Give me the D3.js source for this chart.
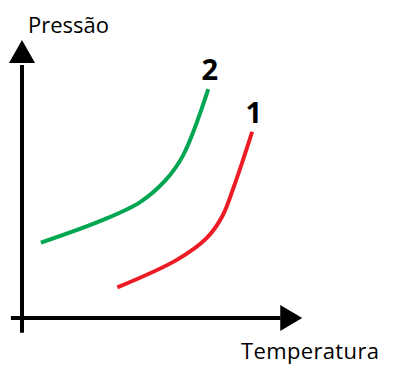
<!DOCTYPE html>
<html><head><meta charset="utf-8">
<script src="https://cdn.jsdelivr.net/npm/d3@7"></script>
<style>body{margin:0;background:#fff}svg{display:block}</style>
</head><body>
<svg id="c" width="401" height="374"></svg>
<script>
const seriesNames = ["1", "2"];
const curve2T = [6.8, 28.7, 42.5, 51.4, 58.0, 67.0];
const curve2P = [27.1, 35.1, 41.7, 49.3, 58.6, 82.3];
const curve1T = [34.3, 55.7, 66.4, 72.0, 76.2, 82.8];
const curve1P = [11.0, 20.9, 28.7, 36.5, 47.2, 67.0];
const axisLabels = ["Temperatura", "Pressão"];

const svg = d3.select("#c");
const x = d3.scaleLinear().domain([0, 100]).range([22, 300]);
const y = d3.scaleLinear().domain([0, 100]).range([318, 40]);
const font = "'Open Sans', sans-serif";

// axes
svg.append("line").attr("x1", x(-4)).attr("x2", x(93)).attr("y1", y(0)).attr("y2", y(0))
  .attr("stroke", "#000").attr("stroke-width", 4);
svg.append("line").attr("x1", x(0)).attr("x2", x(0)).attr("y1", y(-5.3)).attr("y2", y(91))
  .attr("stroke", "#000").attr("stroke-width", 4);
// arrowheads
const xt = x(100.8), yt = y(100);
svg.append("path").attr("d", `M${xt},${y(0)} L${xt-22},${y(0)-13} L${xt-22},${y(0)+13} Z`).attr("fill", "#000");
svg.append("path").attr("d", `M${x(0)},${yt} L${x(0)-13},${yt+23} L${x(0)+13},${yt+23} Z`).attr("fill", "#000");

svg.append("text").attr("x", 379).attr("y", 359).attr("text-anchor", "end")
  .attr("font-family", font).attr("font-size", 22).attr("textLength", 138).text(axisLabels[0]);
svg.append("text").attr("x", 28).attr("y", 33)
  .attr("font-family", font).attr("font-size", 22).text(axisLabels[1]);

const line = d3.line().x(d => x(d[0])).y(d => y(d[1])).curve(d3.curveCatmullRom.alpha(0.5));
const series = [
  {name: seriesNames[0], pts: d3.zip(curve1T, curve1P), color: "#ed1c24"},
  {name: seriesNames[1], pts: d3.zip(curve2T, curve2P), color: "#00a651"}
];
series.forEach(s => {
  svg.append("path").attr("d", line(s.pts)).attr("fill", "none")
    .attr("stroke", s.color).attr("stroke-width", 4);
  const last = s.pts[s.pts.length - 1];
  svg.append("text").attr("x", x(last[0]) + 1.5).attr("y", y(last[1]) - 9)
    .attr("text-anchor", "middle").attr("font-family", font).attr("font-weight", "bold")
    .attr("font-size", 29).text(s.name);
});
</script>
</body></html>
